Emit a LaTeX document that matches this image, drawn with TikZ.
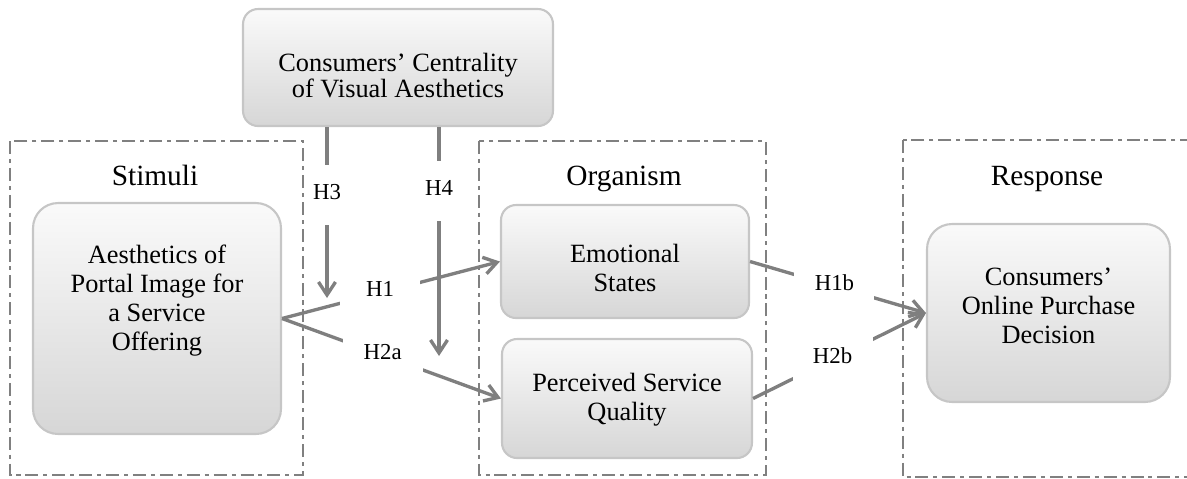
\documentclass[tikz,border=0pt]{standalone}
\usepackage{fontspec}
\setmainfont{Liberation Serif}
\usepackage{tikz}
\usetikzlibrary{arrows.meta}
\definecolor{linkgray}{HTML}{7F7F7F}
\definecolor{framegray}{HTML}{808080}
\definecolor{tileedge}{HTML}{C6C6C6}

\begin{document}
\begin{tikzpicture}[
  x=0.02cm, y=-0.02cm,
  every node/.style={font=\fontsize{15}{16.5}\selectfont},
  frame/.style={draw=framegray, line width=1.45pt, dash pattern=on 7.4pt off 2.8pt on 2.3pt off 2.8pt},
  tile/.style={rectangle, rounded corners=0.3cm, draw=tileedge, line width=1.2pt, top color=gray!4, bottom color=gray!32, inner sep=0pt},
  bigtile/.style={tile, rounded corners=0.5cm},
  txt/.style={align=center},
  heading/.style={anchor=base, font=\fontsize{16.7}{18}\selectfont},
  link/.style={-{Straight Barb[length=2.6mm,width=3.4mm]}, line width=1.9pt, draw=linkgray},
  hyp/.style={fill=white, inner sep=1pt, minimum height=1.2cm, text depth=0.4em, font=\fontsize{13}{14}\selectfont},
  wide/.style={minimum width=1.6cm}
]
\useasboundingbox (0,0) rectangle (1187,478);

% S-O-R frames
\draw[frame] (10,141) rectangle (303,475);
\draw[frame] (479,141) rectangle (766,475);
\draw[frame] (903,140) rectangle (1195,477);

\node[heading] (stimtitle) at (155,185) {Stimuli};
\node[heading] (orgtitle) at (624,185) {Organism};
\node[heading] (resptitle) at (1047,185) {Response};

% construct boxes
\node[tile, minimum width=6.2cm, minimum height=2.34cm] (centrality) at (398,67.5) {};
\node[txt, font=\fontsize{15}{14.6}\selectfont] (centralitytxt) at (398,75.5) {Consumers' Centrality\\of Visual Aesthetics};

\node[bigtile, minimum width=4.96cm, minimum height=4.62cm] (aesth) at (157,318.5) {};
\node[txt] (aesthtxt) at (157,300.75) {Aesthetics of\\Portal Image for\\a Service\\Offering};

\node[tile, minimum width=4.96cm, minimum height=2.26cm] (emo) at (625,261.5) {};
\node[txt] (emotxt) at (625,268) {Emotional\\States};

\node[tile, minimum width=5cm, minimum height=2.38cm] (perc) at (627,398.5) {};
\node[txt] (perctxt) at (627,400) {Perceived Service\\Quality};

\node[bigtile, minimum width=4.86cm, minimum height=3.56cm] (resp) at (1048.5,313) {};
\node[txt] (resptxt) at (1048.5,305.7) {Consumers'\\Online Purchase\\Decision};

% moderating paths
\coordinate (h3end) at (327,298);
\coordinate (h4end) at (439,356);
\draw[link] (centrality.south -| h3end) -- node[hyp, pos=0.40] {H3} (h3end);
\draw[link] (centrality.south -| h4end) -- node[hyp, pos=0.28] {H4} (h4end);

% direct paths
\draw[link] (aesth.east) -- node[hyp, wide, pos=0.45] {H1} (emo.west);
\draw[link] (aesth.east) -- node[hyp, wide, pos=0.46] {H2a} (perc.west);
\draw[link] (emo.east) -- node[hyp, wide, pos=0.48] {H1b} (resp.west);
\draw[link] (perc.east) -- node[hyp, wide, pos=0.46] {H2b} (resp.west);

\end{tikzpicture}
\end{document}
